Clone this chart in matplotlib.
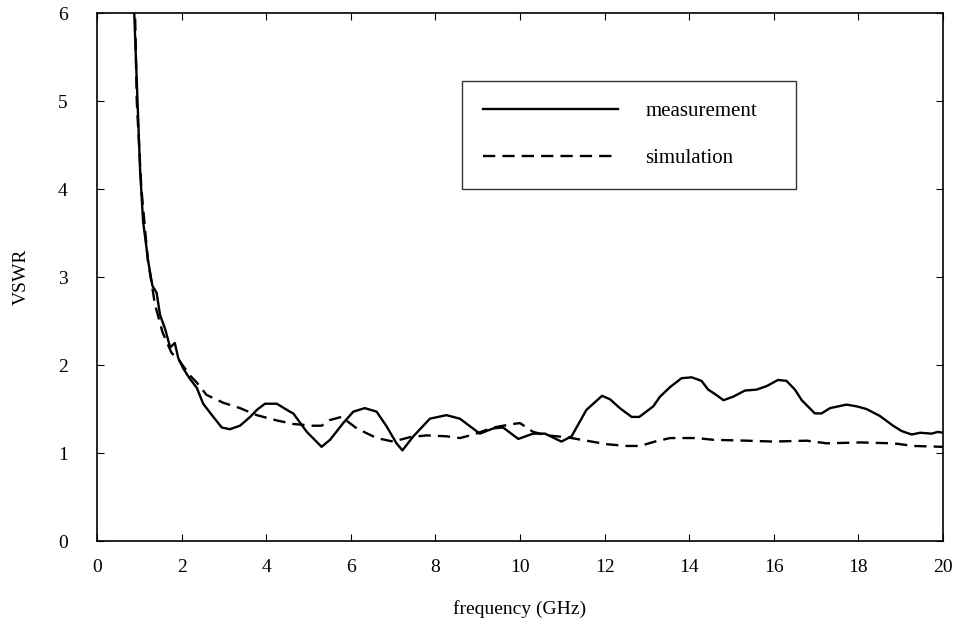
import matplotlib
matplotlib.use('Agg')
from matplotlib import pyplot as plt

plt.rcParams['font.family'] = ['Liberation Serif', 'DejaVu Serif']

meas_f = [0.85, 0.88, 1.02, 1.09, 1.21, 1.31, 1.41, 1.49, 1.61, 1.73, 1.84, 1.92, 2.04,
          2.2, 2.36, 2.51, 2.75, 2.95, 3.14, 3.38, 3.62, 3.78, 3.97, 4.25, 4.56, 4.64,
          4.96, 5.31, 5.51, 5.82, 6.06, 6.33, 6.61, 6.85, 7.08, 7.22, 7.48, 7.87, 8.26,
          8.58, 9.05, 9.37, 9.6, 9.96, 10.31, 10.59, 10.98, 11.22, 11.57, 11.94, 12.13,
          12.36, 12.64, 12.82, 13.15, 13.31, 13.55, 13.82, 14.06, 14.29, 14.45, 14.61,
          14.81, 15.04, 15.32, 15.59, 15.83, 16.1, 16.3, 16.5, 16.66, 16.97, 17.13, 17.33,
          17.72, 17.96, 18.19, 18.51, 18.82, 19.02, 19.26, 19.46, 19.73, 19.88, 20.0]
meas_v = [6.5, 6.0, 4.2, 3.63, 3.18, 2.9, 2.82, 2.57, 2.41, 2.2, 2.25, 2.08, 1.96,
          1.84, 1.74, 1.56, 1.41, 1.29, 1.27, 1.31, 1.41, 1.49, 1.56, 1.56, 1.47, 1.45,
          1.24, 1.07, 1.15, 1.34, 1.47, 1.51, 1.47, 1.30, 1.11, 1.03, 1.19, 1.39, 1.43,
          1.39, 1.22, 1.28, 1.29, 1.16, 1.22, 1.22, 1.13, 1.19, 1.49, 1.65, 1.61,
          1.51, 1.41, 1.41, 1.53, 1.64, 1.75, 1.85, 1.86, 1.82, 1.72, 1.67,
          1.60, 1.64, 1.71, 1.72, 1.76, 1.83, 1.82, 1.72, 1.60, 1.45, 1.45, 1.51,
          1.55, 1.53, 1.50, 1.42, 1.31, 1.25, 1.21, 1.23, 1.22, 1.24, 1.23]

# simulated VSWR
sim_f = [0.85, 0.9, 0.94, 1.05, 1.2, 1.37, 1.55, 1.76, 1.96, 2.2, 2.36, 2.59, 2.99,
         3.38, 3.78, 4.25, 4.64, 5.11, 5.31, 5.51, 5.78, 6.14, 6.61, 7.0, 7.4, 7.79,
         8.26, 8.58, 8.9, 9.37, 9.84, 10.0, 10.31, 10.63, 11.1, 11.57, 12.05, 12.52,
         12.84, 13.19, 13.55, 14.18, 14.57, 15.36, 15.99, 16.78, 17.25, 18.04, 18.83,
         19.3, 20.0]
sim_v = [6.5, 6.0, 5.0, 4.0, 3.2, 2.69, 2.37, 2.14, 2.04, 1.88, 1.80, 1.66, 1.57,
         1.51, 1.43, 1.37, 1.33, 1.31, 1.31, 1.375, 1.41, 1.28, 1.17, 1.13, 1.18, 1.20,
         1.19, 1.17, 1.21, 1.29, 1.33, 1.34, 1.24, 1.20, 1.18, 1.14, 1.10, 1.08,
         1.08, 1.13, 1.17, 1.17, 1.15, 1.14, 1.13, 1.14, 1.11, 1.12, 1.11,
         1.08, 1.07]

fig = plt.figure(figsize=(9.65, 6.27), dpi=100)
ax = fig.add_axes([97/965, 1 - 541/627, 846/965, 528/627])

ax.plot(meas_f, meas_v, color='black', lw=1.7, label='measurement')
ax.plot(sim_f, sim_v, color='black', lw=1.7, dashes=(5.2, 3.0), label='simulation')

ax.set_xlim(0, 20)
ax.set_ylim(0, 6)
ax.set_xticks(range(0, 21, 2))
ax.set_yticks(range(0, 7))
ax.tick_params(direction='in', length=5, width=0.8, top=True, right=True, labelsize=14)
ax.tick_params(axis='x', pad=13)
ax.tick_params(axis='y', pad=21)
for s in ax.spines.values():
    s.set_linewidth(1.2)

ax.set_xlabel('frequency (GHz)', fontsize=14, labelpad=17)
ax.set_ylabel('VSWR', fontsize=14, labelpad=20)

# legend box spans the same region as in the original
leg = ax.legend(loc='upper left',
                bbox_to_anchor=((462-97)/846, (541-189)/528, 334/846, 108/528),
                mode='expand', fontsize=15, frameon=True, fancybox=False,
                edgecolor='black', handlelength=6.5, handletextpad=1.3,
                labelspacing=1.3, borderpad=1.0, borderaxespad=0)
leg.get_frame().set_linewidth(1.0)

fig.savefig('out.png', dpi=100)
